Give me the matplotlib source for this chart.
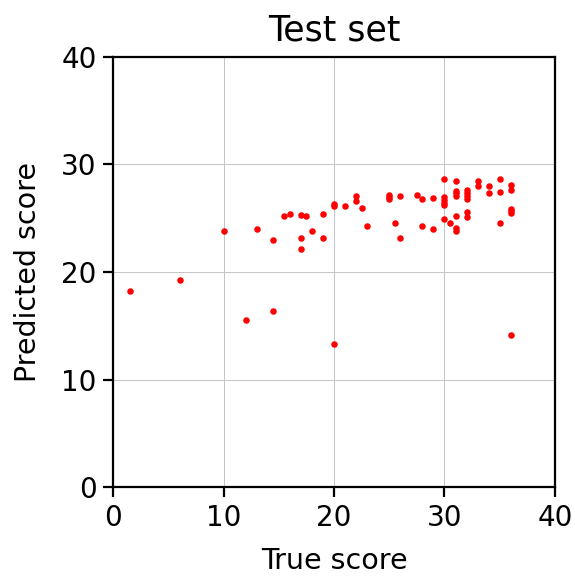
import matplotlib
matplotlib.use('Agg')
import matplotlib.pyplot as plt

# true vs predicted scores
true_score = [1.5, 6, 10, 12, 13, 14.5, 14.5, 15.5, 16, 17, 17, 17, 17.5, 18, 19, 19,
              20, 20, 20, 21, 22, 22, 22.5, 23, 25, 25, 25, 25.5, 26, 26, 27.5, 28, 28,
              29, 29, 30, 30, 30, 30, 30, 30, 30.5, 31, 31, 31, 31, 31, 31, 31,
              32, 32, 32, 32, 32, 32, 33, 33, 34, 34, 35, 35, 35, 36, 36, 36, 36, 36, 36]
pred_score = [18.2, 19.3, 23.8, 15.5, 24.0, 23.0, 16.4, 25.2, 25.4, 25.3, 23.15, 22.1, 25.2, 23.8, 25.4, 23.15,
              26.35, 26.1, 13.3, 26.1, 27.05, 26.6, 25.95, 24.3, 27.15, 27.0, 26.8, 24.6, 27.05, 23.2, 27.2, 26.8, 24.3,
              26.9, 24.0, 28.65, 26.95, 26.7, 26.45, 26.2, 24.9, 24.6, 28.45, 27.55, 27.3, 27.05, 25.2, 24.05, 23.85,
              27.6, 27.35, 27.1, 26.8, 25.6, 25.15, 28.45, 27.95, 28.0, 27.35, 28.6, 27.45, 24.55, 28.1, 27.6, 25.85, 25.65, 25.5, 14.1]

fig = plt.figure(figsize=(5.75, 5.8), dpi=100)
ax = fig.add_axes([0.197, 0.160, 0.768, 0.742])
ax.scatter(true_score, pred_score, c='red', s=22, linewidths=0, zorder=3)
ax.set_xlim(0, 40)
ax.set_ylim(0, 40)
ax.set_xticks([0, 10, 20, 30, 40])
ax.set_yticks([0, 10, 20, 30, 40])
ax.grid(True, color='#c4c4c4', linewidth=0.7)
ax.set_axisbelow(True)
for s in ax.spines.values():
    s.set_linewidth(1.6)
ax.tick_params(labelsize=20, width=1.6, length=7, pad=5)
ax.set_xlabel('True score', fontsize=20.5, labelpad=11)
ax.set_ylabel('Predicted score', fontsize=20.5, labelpad=14)
ax.set_title('Test set', fontsize=25, pad=12)
fig.savefig('out.png', dpi=100)
